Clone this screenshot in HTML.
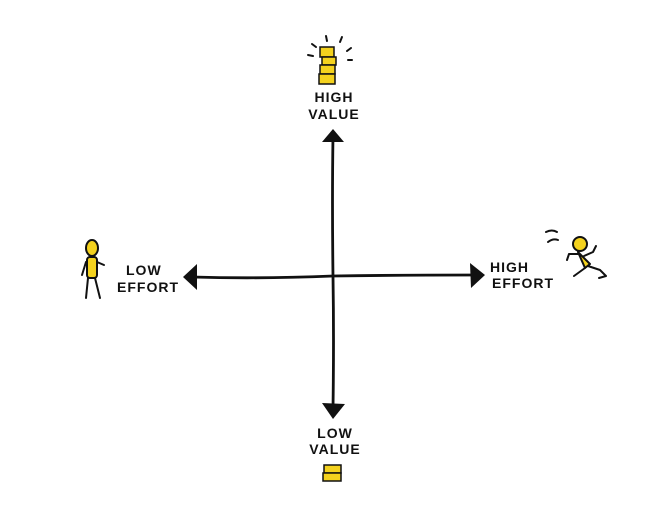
<!DOCTYPE html>
<html><head><style>
html,body{margin:0;padding:0;background:#fff;}
svg{display:block}
text{font-family:"Liberation Sans",sans-serif;font-weight:bold;fill:#111;letter-spacing:1px}
</style></head><body>
<svg width="662" height="527" viewBox="0 0 662 527" xmlns="http://www.w3.org/2000/svg">
<g stroke="#111" stroke-width="2.8" fill="none" stroke-linecap="round">
<path d="M333 136 Q332 200 333 276 Q334 340 333 408"/>
<path d="M192 277 Q260 279 333 276 Q400 275 476 275"/>
</g>
<g fill="#111">
<polygon points="333,129 322,142 344,142"/>
<polygon points="333,419 322,403 345,404"/>
<polygon points="183,277 197,264 197,290"/>
<polygon points="485,275 470,263 471,288"/>
</g>
<g stroke="#111" stroke-width="1.5" fill="#f4d21e">
<rect x="320" y="47" width="14" height="10"/>
<rect x="322" y="57" width="14" height="8"/>
<rect x="320" y="65" width="15" height="9"/>
<rect x="319" y="74" width="16" height="10"/>
</g>
<g stroke="#111" stroke-width="2" stroke-linecap="round">
<line x1="312" y1="44" x2="316" y2="47"/><line x1="308" y1="55" x2="313" y2="56"/>
<line x1="326" y1="36" x2="327" y2="41"/><line x1="342" y1="37" x2="340" y2="42"/>
<line x1="351" y1="48" x2="347" y2="51"/><line x1="352" y1="60" x2="348" y2="60"/>
</g>
<text x="334" y="102" font-size="14" text-anchor="middle">HIGH</text>
<text x="334" y="119" font-size="14" text-anchor="middle">VALUE</text>
<text x="335" y="438" font-size="14" text-anchor="middle">LOW</text>
<text x="335" y="454" font-size="14" text-anchor="middle">VALUE</text>
<g stroke="#111" stroke-width="1.5" fill="#f4d21e">
<rect x="324" y="465" width="17" height="8"/>
<rect x="323" y="473" width="18" height="8"/>
</g>
<text x="126" y="275" font-size="14">LOW</text>
<text x="117" y="292" font-size="14">EFFORT</text>
<text x="490" y="272" font-size="14">HIGH</text>
<text x="492" y="288" font-size="14">EFFORT</text>
<g stroke="#111" stroke-width="2" fill="#f4d21e" stroke-linecap="round">
<ellipse cx="92" cy="248" rx="6" ry="8"/>
<rect x="87" y="257" width="10" height="21" rx="3"/>
<path d="M88 278 L86 298 M95 278 L100 298 M86 262 L82 275 M97 262 L104 265" fill="none"/>
</g>
<g stroke="#111" stroke-width="2" fill="#f4d21e" stroke-linecap="round" stroke-linejoin="round">
<ellipse cx="580" cy="244" rx="7" ry="7"/>
<path d="M578 252 L585 268 L590 264 Z"/>
<path d="M578 254 L569 254 L567 260 M584 256 L593 252 L596 246 M585 268 L574 276 M588 266 L600 270 L606 276 L599 278" fill="none"/>
<path d="M546 232 Q552 229 557 232 M548 242 Q553 238 558 240" fill="none"/>
</g>
</svg>
</body></html>
